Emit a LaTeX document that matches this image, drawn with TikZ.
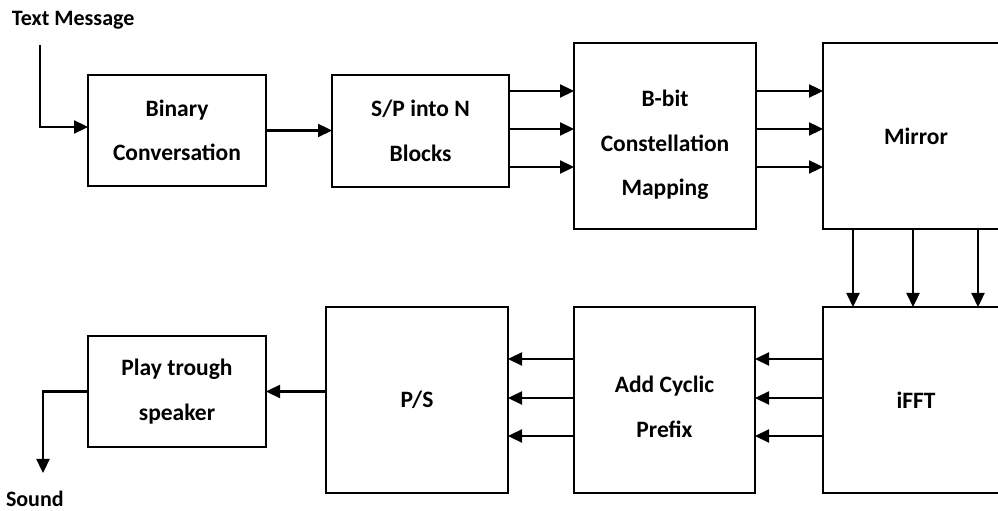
\documentclass[tikz,border=0pt]{standalone}
\usepackage{fontspec}
\setmainfont{Carlito}
\usetikzlibrary{arrows.meta}
\begin{document}
\begin{tikzpicture}[x=1pt,y=1pt,
  every node/.style={font=\bfseries\fontsize{23.5}{44.5}\selectfont, inner sep=0pt, outer sep=0pt, align=center},
  blk/.style={draw, line width=2.1pt, minimum width=#1},
  small/.style={font=\bfseries\fontsize{22}{26}\selectfont},
  arr/.style={line width=2.3pt, -{Triangle[length=14pt,width=13pt]}},
  ln/.style={line width=2.1pt}]
\useasboundingbox (0,0) rectangle (998,511);
% boxes
\node[blk=178, minimum height=111] (binary) at (177,380.5) {Binary\\Conversation};
\node[blk=177, minimum height=112] (sp) at (420.5,380) {S/P into N\\Blocks};
\node[blk=182, minimum height=186, label={[yshift=-9pt]center:B-bit\\Constellation\\Mapping}] (bbit) at (665,375) {};
\node[minimum width=186, minimum height=186] (mirror) at (916,375) {Mirror};
\draw[ln] (mirror.north east) -- (mirror.north west) -- (mirror.south west) -- (mirror.south east);
\node[minimum width=186, minimum height=186] (ifft) at (916,111) {iFFT};
\draw[ln] (ifft.north east) -- (ifft.north west) -- (ifft.south west) -- (ifft.south east);
\node[blk=181, minimum height=186, label={[yshift=-7pt]center:Add Cyclic\\Prefix}] (acp) at (664.5,111) {};
\node[blk=182, minimum height=186] (ps) at (417,111) {P/S};
\node[blk=178, minimum height=111] (play) at (177,119.5) {Play trough\\speaker};
% texts
\node[small, anchor=base west] (txt) at (12,485) {Text Message};
\node[small, anchor=base west] (snd) at (6,4.5) {Sound};
\coordinate (in) at (40,466);
\coordinate (out) at (43,38);
% connectors
\draw[arr] (in) |- ([yshift=3.5pt]binary.west);
\draw[arr] (binary.east) -- (binary.east -| sp.west);
\foreach \y in {420,382,344}{
  \draw[arr] (sp.east |- 0,\y) -- (bbit.west |- 0,\y);
  \draw[arr] (bbit.east |- 0,\y) -- (mirror.west |- 0,\y);
}
\foreach \x in {853,913,978}{
  \draw[arr] (mirror.south -| \x,0) -- (ifft.north -| \x,0);
}
\foreach \y in {152,113,75}{
  \draw[arr] (ifft.west |- 0,\y) -- (acp.east |- 0,\y);
  \draw[arr] (acp.west |- 0,\y) -- (ps.east |- 0,\y);
}
\draw[arr] (ps.west |- play.east) -- (play.east);
\draw[arr] (play.west) -| (out);
\end{tikzpicture}
\end{document}
